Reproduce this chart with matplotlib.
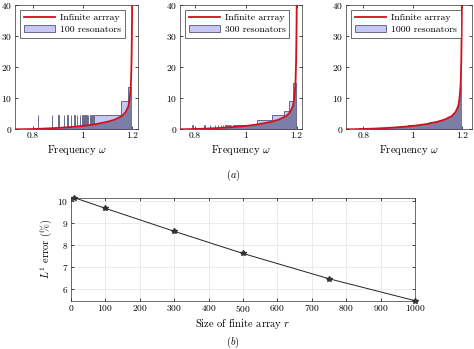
import numpy as np
import matplotlib
matplotlib.use('Agg')
import matplotlib.pyplot as plt

plt.rcParams['font.family'] = 'serif'
plt.rcParams['font.serif'] = ['cmr10']
plt.rcParams['mathtext.fontset'] = 'cm'
plt.rcParams['axes.formatter.use_mathtext'] = True

# density of the infinite array
omega_inf = [0.72, 0.76, 0.80, 0.85, 0.90, 0.95, 1.00, 1.05, 1.10, 1.13, 1.16, 1.175,
             1.18, 1.185, 1.188, 1.19, 1.192, 1.195, 1.196, 1.198, 1.199, 1.2, 1.201]
dos_inf = [0.0, 0.03, 0.1, 0.25, 0.45, 0.72, 1.08, 1.6, 2.4, 3.1, 4.3, 5.6,
           6.5, 7.3, 8.5, 9.5, 11.0, 14.0, 16.0, 22.0, 28.0, 35.0, 50.0]

# histograms of the finite arrays: bar left edges, right edges, heights
left_100 = [0.818, 0.875, 0.901, 0.924, 0.939, 0.953, 0.966, 0.977, 0.988, 0.998,
            1.006, 1.014, 1.022, 1.031, 1.039, 1.045, 1.155, 1.185]
right_100 = [0.820, 0.877, 0.903, 0.926, 0.941, 0.955, 0.968, 0.979, 0.990, 1.000,
             1.008, 1.016, 1.024, 1.033, 1.041, 1.155, 1.185, 1.197]
height_100 = [4.5] * 16 + [9.0, 13.5]

left_300 = [0.790, 0.836, 0.858, 0.877, 0.890, 0.901, 0.910, 0.919, 0.927, 0.934,
            0.941, 0.948, 1.045, 1.105, 1.15, 1.17, 1.185]
right_300 = [0.792, 0.838, 0.860, 0.879, 0.892, 0.903, 0.912, 0.921, 0.929, 0.936,
             0.943, 1.045, 1.105, 1.15, 1.17, 1.185, 1.197]
height_300 = [1.5] * 12 + [3.0, 4.5, 6.0, 9.0, 15.0]

left_1000 = [0.78, 0.90, 0.98, 1.03, 1.07, 1.10, 1.125, 1.145, 1.16, 1.175, 1.185, 1.192]
right_1000 = [0.90, 0.98, 1.03, 1.07, 1.10, 1.125, 1.145, 1.16, 1.175, 1.185, 1.192, 1.198]
height_1000 = [0.45, 0.9, 1.35, 1.8, 2.25, 2.7, 3.15, 4.05, 4.95, 6.3, 9.0, 13.5]

# L1 error against array size
sizes = [10, 100, 300, 500, 750, 1000]
l1_error = [10.135, 9.655, 8.62, 7.62, 6.48, 5.49]

fig = plt.figure(figsize=(4.74, 3.49), dpi=100)

panels = [
    ([0.0316, 0.6295, 0.2595, 0.357], (0.727, 1.224), left_100, right_100, height_100, '100 resonators'),
    ([0.3797, 0.6295, 0.2568, 0.357], (0.741, 1.220), left_300, right_300, height_300, '300 resonators'),
    ([0.7300, 0.6295, 0.2660, 0.357], (0.729, 1.242), left_1000, right_1000, height_1000, '1000 resonators'),
]

w = np.array(omega_inf)
d = np.array(dos_inf)
for rect, xlim, lft, rgt, hgt, lab in panels:
    ax = fig.add_axes(rect)
    lft = np.array(lft)
    widths = np.array(rgt) - lft
    bars = ax.bar(lft, hgt, width=widths, align='edge', facecolor=(0.78, 0.78, 0.96),
                  edgecolor='#55557a', linewidth=0.6, zorder=1)
    mask = w <= rgt[-1]
    ax.fill_between(w[mask], 0, d[mask], color='#7b7ea6', linewidth=0, zorder=2)
    line, = ax.plot(w, d, color='#d0101a', linewidth=1.3, zorder=3)
    ax.set_xlim(*xlim)
    ax.set_ylim(0, 40)
    ax.set_xticks([0.8, 1.0, 1.2])
    ax.set_xticklabels(['0.8', '1', '1.2'])
    ax.set_yticks([0, 10, 20, 30, 40])
    ax.tick_params(direction='in', top=True, right=True, length=2.5, width=0.5,
                   labelsize=6.8, pad=2)
    for s in ax.spines.values():
        s.set_linewidth(0.5)
        s.set_color('#333333')
    ax.set_xlabel(r'Frequency $\omega$', fontsize=7.6, labelpad=2)
    leg = ax.legend([line, bars], ['Infinite arrray', lab], loc='upper left', fontsize=7,
                    handlelength=3.2, frameon=True, fancybox=False, framealpha=1,
                    borderaxespad=0.5, borderpad=0.4, labelspacing=0.3, handletextpad=0.5)
    leg.get_frame().set_edgecolor('#333333')
    leg.get_frame().set_linewidth(0.5)

fig.text(0.4916, 0.4966, r'$(a)$', ha='center', va='center', fontsize=7.5)

ax2 = fig.add_axes([0.1498, 0.1384, 0.7257, 0.2951])
ax2.plot(sizes, l1_error, color='#222222', linewidth=0.7, marker='*', markersize=4,
         markerfacecolor='#333333', markeredgecolor='#333333', clip_on=False)
ax2.set_xlim(0, 1000)
ax2.set_ylim(min(l1_error), max(l1_error))
ax2.set_xticks(range(0, 1001, 100))
ax2.set_yticks([6, 7, 8, 9, 10])
ax2.grid(True, color='#e3e3e3', linewidth=0.5)
ax2.set_axisbelow(True)
ax2.tick_params(direction='in', top=True, right=True, length=2.5, width=0.5,
                labelsize=6.8, pad=2)
for s in ax2.spines.values():
    s.set_linewidth(0.5)
    s.set_color('#333333')
ax2.set_xlabel(r'Size of finite array $r$', fontsize=7.6, labelpad=2)
ax2.set_ylabel(r'$L^1$ error $(\%)$', fontsize=7.6, labelpad=2)

fig.text(0.4916, 0.018, r'$(b)$', ha='center', va='center', fontsize=7.5)

fig.savefig('out.png', dpi=100)
